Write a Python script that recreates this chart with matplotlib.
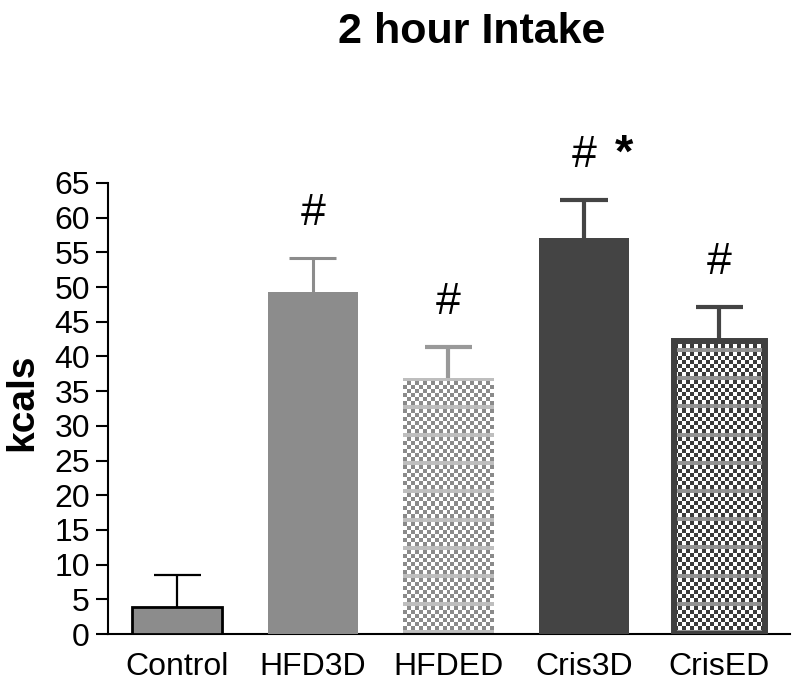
import numpy as np
import matplotlib
matplotlib.use('Agg')
from matplotlib import pyplot as plt
from matplotlib import colors as mcolors

plt.rcParams['font.family'] = ['Liberation Sans', 'DejaVu Sans']

groups = ['Control', 'HFD3D', 'HFDED', 'Cris3D', 'CrisED']
means = [3.9, 49.3, 36.9, 57.1, 42.3]
sem = [4.6, 4.9, 4.5, 5.4, 4.9]
marks = ['', '#', '#', '#', '#']
stars = ['', '', '', '*', '']


def checker_fill(ax, bar, color, cell=4, stripe=7):
    '''fill a bar with a checkerboard image clipped to the bar'''
    bx, by = bar.get_x(), bar.get_y()
    bw, bh = bar.get_width(), bar.get_height()
    (x0, y0) = ax.transData.transform((bx, by))
    (x1, y1) = ax.transData.transform((bx + bw, by + bh))
    ncols = max(1, int(round((x1 - x0) / cell)))
    nrows = max(1, int(round((y1 - y0) / cell)))
    board = np.add.outer(np.arange(nrows), np.arange(ncols)) % 2
    c = np.array(mcolors.to_rgb(color))
    white = np.ones(3)
    rgb = np.where(board[..., None] == 1, c, white)
    # faint horizontal lines like the original pattern
    rgb[::stripe] = 0.55 * c + 0.45 * white
    im = ax.imshow(rgb, extent=(bx, bx + bw, by, by + bh), origin='lower',
                   aspect='auto', interpolation='nearest', zorder=2)
    im.set_clip_path(bar)
    return im


fig = plt.figure(figsize=(8, 6.95), dpi=100)
ax = fig.add_axes([108 / 800, 61 / 695, 682 / 800, 451 / 695])

x = np.arange(len(groups))
width = 0.665
cap = 0.174
face = ['#8c8c8c', '#8c8c8c', 'none', '#444444', 'none']
edge = ['black', 'none', 'none', 'none', '#404040']
elw = [2.0, 0, 0, 0, 4.3]
err_col = ['black', '#8c8c8c', '#999999', '#444444', '#444444']
err_lw = [1.6, 2.2, 3.0, 3.0, 3.0]

ax.set_xlim(-0.51, 4.52)
ax.set_ylim(0, 65)

bars = ax.bar(x, means, width, color=face, zorder=3)
for b, ec, lw in zip(bars, edge, elw):
    b.set_edgecolor(ec)
    b.set_linewidth(lw)

checker_fill(ax, bars[2], '#8a8a8a')
checker_fill(ax, bars[4], '#3a3a3a')

for i in range(len(groups)):
    top = means[i] + sem[i]
    # upper error bar only
    ax.vlines(x[i], means[i], top, colors=err_col[i], linewidth=err_lw[i],
              zorder=1)
    ax.hlines(top, x[i] - cap, x[i] + cap, colors=err_col[i],
              linewidth=err_lw[i], zorder=1)
    if marks[i]:
        ax.annotate(marks[i], (x[i], top), xytext=(0, 32),
                    textcoords='offset points', ha='center', va='center',
                    fontsize=32)
    if stars[i]:
        ax.annotate(stars[i], (x[i], top), xytext=(29, 33),
                    textcoords='offset points', ha='center', va='center',
                    fontsize=34, fontweight='bold')

ax.set_xlim(-0.51, 4.52)
ax.set_ylim(0, 65)

ax.set_yticks(np.arange(0, 66, 5))
ax.set_xticks(x)
ax.set_xticklabels(groups)
ax.tick_params(axis='y', labelsize=23, length=9, width=1.5, pad=4)
ax.tick_params(axis='x', labelsize=23, length=0, pad=13)
for s in ['top', 'right']:
    ax.spines[s].set_visible(False)
for s in ['left', 'bottom']:
    ax.spines[s].set_linewidth(1.5)

fig.text(472 / 800, 1 - 43 / 695, '2 hour Intake', ha='center',
         va='baseline', fontsize=31, fontweight='bold')
fig.text(22 / 800, 1 - 402 / 695, 'kcals', rotation=90, ha='center',
         va='center', fontsize=28, fontweight='bold')

fig.savefig('out.png', dpi=100)
